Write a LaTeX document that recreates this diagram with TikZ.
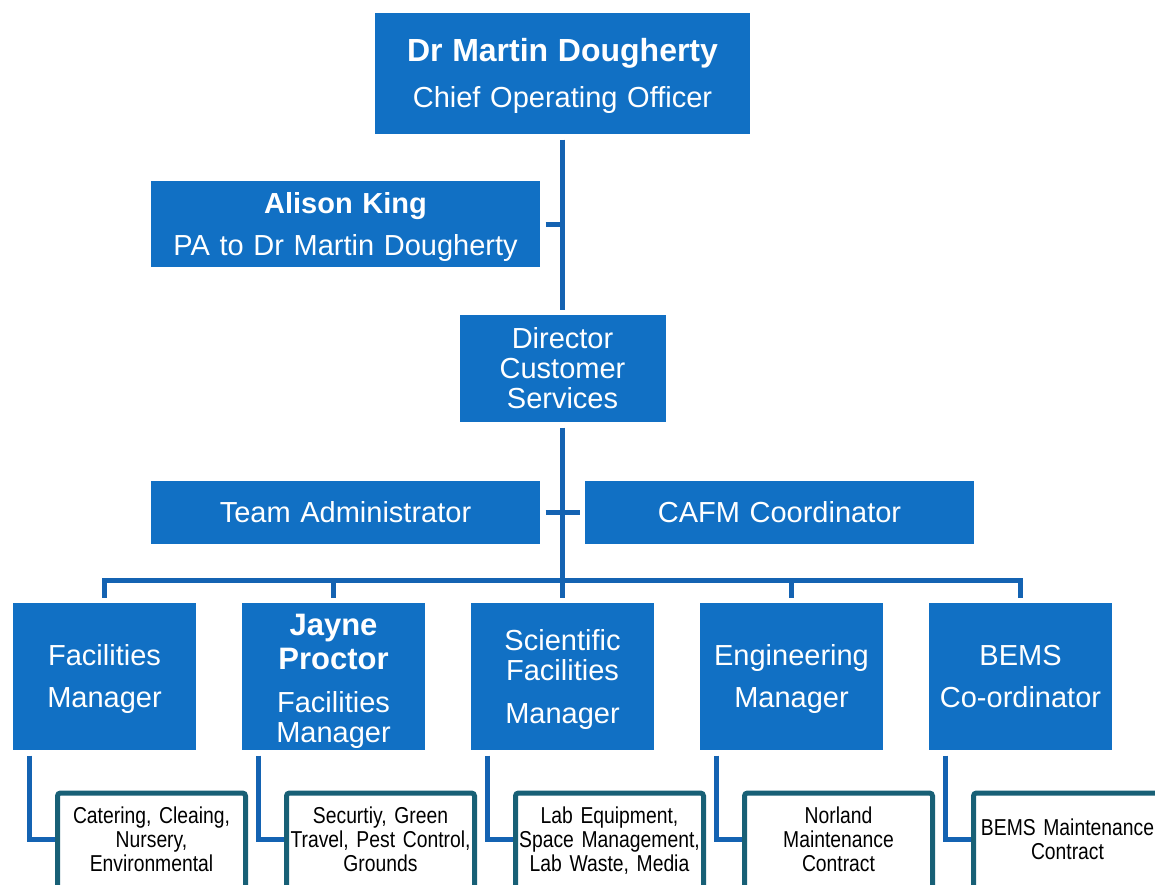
\documentclass[tikz,border=0pt]{standalone}
\usepackage{fontspec}
\setmainfont{Liberation Sans}
\newfontfamily\narrowfont[FakeStretch=0.84]{Liberation Sans}
\usepackage{tikz}
\usepackage{xcolor}
\definecolor{boxblue}{RGB}{17,112,196}
\definecolor{lineblue}{RGB}{20,99,178}
\definecolor{subteal}{RGB}{24,96,118}

\begin{document}
\begin{tikzpicture}[x=1pt, y=-1pt,
    box/.style={fill=boxblue, text=white, inner sep=0pt, outer sep=5.5pt,
        align=center, font=\fontsize{29}{30}\selectfont},
    wide/.style={box, minimum width=389pt, text width=389pt},
    mgr/.style={box, minimum width=183pt, minimum height=147pt, text width=183pt},
    subbox/.style={draw=subteal, line width=5pt, rounded corners=3pt,
        minimum width=188pt, minimum height=104pt, text width=188pt,
        inner sep=0pt, align=center, font=\narrowfont\fontsize{23}{24}\selectfont},
    link/.style={draw=lineblue, line width=5pt}]
    \useasboundingbox (0,0) rectangle (1155,884);
    \clip (0,0) rectangle (1155,884);

    \node[box, minimum width=375pt, minimum height=121pt, text width=375pt] (cco) at (562.5,73.5)
        {\rule{0pt}{29pt}\fontsize{32}{30}\selectfont\bfseries Dr Martin Dougherty\\[16pt]
         \fontsize{29}{30}\selectfont\mdseries Chief Operating Officer};
    \node[wide, minimum height=86pt] (pa) at (345.5,224)
        {\rule{0pt}{27pt}\textbf{Alison King}\\[12pt]PA to Dr Martin Dougherty};
    \node[box, minimum width=206pt, minimum height=107pt, text width=206pt] (dir) at (562.5,368.5)
        {Director\\Customer\\Services};
    \node[wide, minimum height=63pt] (ta) at (345.5,512.5) {Team Administrator};
    \node[wide, minimum height=63pt] (cafm) at (779.5,512.5) {CAFM Coordinator};

    \node[mgr] (fm) at (104.5,676.5) {\rule{0pt}{25pt}Facilities\\[12pt]Manager};
    \node[mgr] (jp) at (333.5,676.5)
        {\rule{0pt}{30pt}\fontsize{31}{30}\selectfont\bfseries Jayne\\[4pt]Proctor\\[13pt]
         \fontsize{29}{30}\selectfont\mdseries Facilities\\Manager};
    \node[mgr] (sfm) at (562.5,676.5) {\rule{0pt}{27pt}Scientific\\Facilities\\[13pt]Manager};
    \node[mgr] (em) at (791.5,676.5) {\rule{0pt}{25pt}Engineering\\[12pt]Manager};
    \node[mgr] (bems) at (1020.5,676.5) {BEMS\\[12pt]Co-ordinator};

    \node[subbox] (fm-sub) at (151.5,845) {Catering, Cleaing,\\Nursery,\\Environmental\\[-12pt]\mbox{}};
    \node[subbox] (jp-sub) at (380.5,845) {Securtiy, Green\\Travel, Pest Control,\\Grounds\\[-12pt]\mbox{}};
    \node[subbox] (sfm-sub) at (609.5,845) {Lab Equipment,\\Space Management,\\Lab Waste, Media\\[-12pt]\mbox{}};
    \node[subbox] (em-sub) at (838.5,845) {Norland\\Maintenance\\Contract\\[-12pt]\mbox{}};
    \node[subbox] (bems-sub) at (1067.5,845) {BEMS Maintenance\\Contract\\[-12pt]\mbox{}};

    \draw[link] (cco.south) -- (dir.north);
    \draw[link] (pa.east) -- (pa.east -| cco.south);
    \draw[link] (dir.south) -- (dir.south |- sfm.north);
    \draw[link] (ta.east) -- (cafm.west);

    \coordinate (bus) at (562.5,580);
    \draw[link] (fm.north) |- (bus) -| (bems.north);
    \foreach \n in {jp,sfm,em}
        \draw[link] (\n.north) -- (\n.north |- bus);
    %\draw[help lines] (0,0) grid[step=50] (1155,884);
    \foreach \n in {fm,jp,sfm,em,bems}
        \draw[link] ([xshift=21.5pt]\n.south west) |- ([yshift=6pt]\n-sub.west);

\end{tikzpicture}
\end{document}
